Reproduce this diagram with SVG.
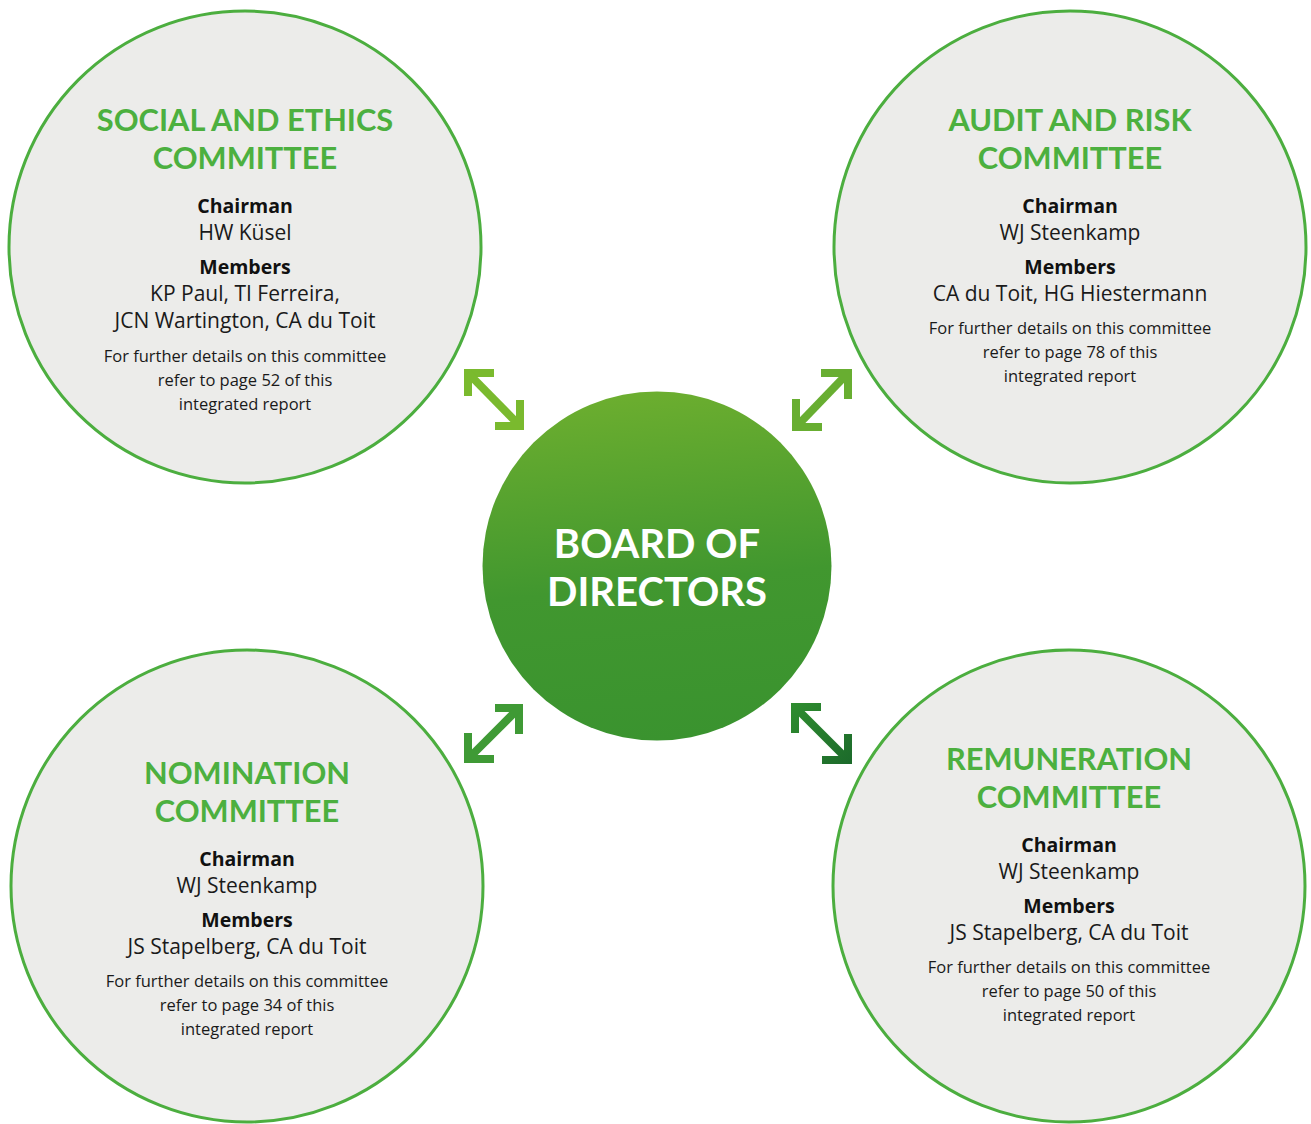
<svg xmlns="http://www.w3.org/2000/svg" width="1311" height="1124" viewBox="0 0 1311 1124">
  <style>
    .committee { fill: #ececea; stroke: #4cae3f; stroke-width: 3; }
    .title { font-family: Lato, "Liberation Sans", sans-serif; font-weight: 700; font-size: 30.8px; fill: #4cb03f; text-anchor: middle; }
    .label { font-family: "Open Sans", "Liberation Sans", sans-serif; font-weight: 700; font-size: 19.5px; fill: #111; text-anchor: middle; }
    .name { font-family: "Open Sans", "Liberation Sans", sans-serif; font-size: 21px; fill: #1a1a1a; text-anchor: middle; }
    .note { font-family: "Open Sans", "Liberation Sans", sans-serif; font-size: 16.5px; fill: #1a1a1a; text-anchor: middle; }
    .board { font-family: Lato, "Liberation Sans", sans-serif; font-weight: 700; font-size: 40px; fill: #ffffff; text-anchor: middle; }
    .arrow { fill: none; stroke-width: 8; stroke-linecap: butt; stroke-linejoin: miter; }
  </style>
  <defs>
    <linearGradient id="boardFill" x1="0.45" y1="0" x2="0.55" y2="1">
      <stop offset="0" stop-color="#6cae2f"/>
      <stop offset="0.55" stop-color="#41972f"/>
      <stop offset="1" stop-color="#3a932f"/>
    </linearGradient>
    <linearGradient id="arrowBR" x1="791" y1="703" x2="852" y2="764" gradientUnits="userSpaceOnUse">
      <stop offset="0" stop-color="#2f8d2f"/>
      <stop offset="1" stop-color="#1c6a2b"/>
    </linearGradient>
  </defs>

  <rect width="1311" height="1124" fill="#ffffff"/>

  <!-- connectors: double-headed arrows between the board and each committee -->
  <g id="connectors">
    <g stroke="#7aba2e" class="arrow">
      <polyline points="494,373 468,373 468,396"/>
      <line x1="468" y1="373" x2="520" y2="426"/>
      <polyline points="520,400 520,426 495,426"/>
    </g>
    <g stroke="#68ae31" class="arrow">
      <polyline points="821,373 848,373 848,399"/>
      <line x1="848" y1="373" x2="796" y2="427"/>
      <polyline points="796,399 796,427 822,427"/>
    </g>
    <g stroke="#3f9a35" class="arrow">
      <polyline points="495,708 519,708 519,734"/>
      <line x1="519" y1="708" x2="468" y2="759"/>
      <polyline points="468,733 468,759 494,759"/>
    </g>
    <g stroke="url(#arrowBR)" class="arrow">
      <polyline points="821,707 795,707 795,733"/>
      <line x1="795" y1="707" x2="848" y2="760"/>
      <polyline points="848,734 848,760 822,760"/>
    </g>
  </g>

  <!-- Social and Ethics Committee -->
  <g id="social-ethics">
    <circle class="committee" cx="245" cy="247" r="236"/>
    <text class="title" x="245" y="131">SOCIAL AND ETHICS</text>
    <text class="title" x="245" y="169">COMMITTEE</text>
    <text class="label" x="245" y="213">Chairman</text>
    <text class="name" x="245" y="240">HW Küsel</text>
    <text class="label" x="245" y="274">Members</text>
    <text class="name" x="245" y="301">KP Paul, TI Ferreira,</text>
    <text class="name" x="245" y="328">JCN Wartington, CA du Toit</text>
    <text class="note" x="245" y="362">For further details on this committee</text>
    <text class="note" x="245" y="386">refer to page 52 of this</text>
    <text class="note" x="245" y="410">integrated report</text>
  </g>

  <!-- Audit and Risk Committee -->
  <g id="audit-risk">
    <circle class="committee" cx="1070" cy="247" r="236"/>
    <text class="title" x="1070" y="131">AUDIT AND RISK</text>
    <text class="title" x="1070" y="169">COMMITTEE</text>
    <text class="label" x="1070" y="213">Chairman</text>
    <text class="name" x="1070" y="240">WJ Steenkamp</text>
    <text class="label" x="1070" y="274">Members</text>
    <text class="name" x="1070" y="301">CA du Toit, HG Hiestermann</text>
    <text class="note" x="1070" y="334">For further details on this committee</text>
    <text class="note" x="1070" y="358">refer to page 78 of this</text>
    <text class="note" x="1070" y="382">integrated report</text>
  </g>

  <!-- Nomination Committee -->
  <g id="nomination">
    <circle class="committee" cx="247" cy="886" r="236"/>
    <text class="title" x="247" y="784">NOMINATION</text>
    <text class="title" x="247" y="822">COMMITTEE</text>
    <text class="label" x="247" y="866">Chairman</text>
    <text class="name" x="247" y="893">WJ Steenkamp</text>
    <text class="label" x="247" y="927">Members</text>
    <text class="name" x="247" y="954">JS Stapelberg, CA du Toit</text>
    <text class="note" x="247" y="987">For further details on this committee</text>
    <text class="note" x="247" y="1011">refer to page 34 of this</text>
    <text class="note" x="247" y="1035">integrated report</text>
  </g>

  <!-- Remuneration Committee -->
  <g id="remuneration">
    <circle class="committee" cx="1069" cy="886" r="236"/>
    <text class="title" x="1069" y="770">REMUNERATION</text>
    <text class="title" x="1069" y="808">COMMITTEE</text>
    <text class="label" x="1069" y="852">Chairman</text>
    <text class="name" x="1069" y="879">WJ Steenkamp</text>
    <text class="label" x="1069" y="913">Members</text>
    <text class="name" x="1069" y="940">JS Stapelberg, CA du Toit</text>
    <text class="note" x="1069" y="973">For further details on this committee</text>
    <text class="note" x="1069" y="997">refer to page 50 of this</text>
    <text class="note" x="1069" y="1021">integrated report</text>
  </g>

  <!-- Board of Directors -->
  <g id="board">
    <circle cx="657" cy="566" r="174.5" fill="url(#boardFill)"/>
    <text class="board" x="657" y="558">BOARD OF</text>
    <text class="board" x="657" y="606">DIRECTORS</text>
  </g>
</svg>
